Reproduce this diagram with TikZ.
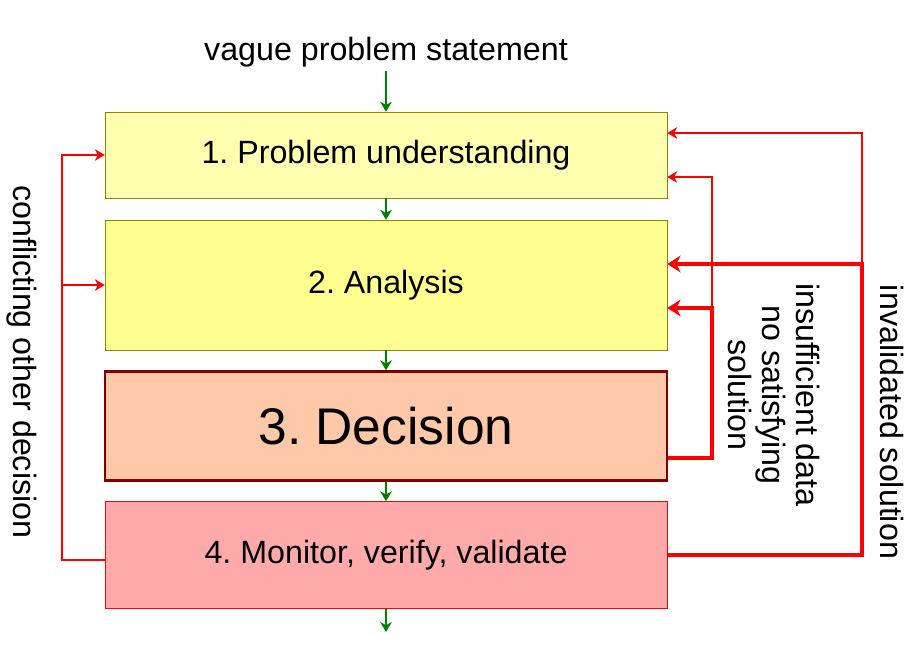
\documentclass[tikz,border=0pt]{standalone}
\usepackage{fontspec}
\setmainfont{Liberation Sans}
\usetikzlibrary{arrows.meta, positioning, calc}
\definecolor{decfill}{HTML}{FFC8A8}
\definecolor{monfill}{HTML}{FFAAAA}
\definecolor{undfill}{HTML}{FFFFB0}
\definecolor{anafill}{HTML}{FFFF90}
\frenchspacing

\begin{document}
\begin{tikzpicture}[x=0.03cm, y=-0.03cm,
    stage/.style={rectangle, draw=olive, minimum width=16.86cm, align=center, font=\fontsize{27.5}{32}\selectfont, inner sep=0pt},
    flow/.style={-{Stealth[length=3mm, width=3.5mm]}, line width=1.5pt, green!50!black},
    back/.style={-{Stealth[length=3mm, width=3.5mm]}, red, line width=1.2pt},
    backthick/.style={-{Stealth[length=4mm, width=5mm]}, red, line width=3pt},
    lbl/.style={font=\fontsize{27.5}{29}\selectfont, align=center, rotate=-90}
]
\useasboundingbox (0,0) rectangle (920,660);

% Stages
\node[stage, fill=undfill, minimum height=2.58cm] (understand) at (386,155) {1. Problem understanding};
\node[stage, fill=anafill, minimum height=3.9cm] (analysis) at (386,285) {2. Analysis};
\node[stage, fill=decfill, draw=red!50!black, line width=2pt, minimum height=3.27cm, font=\fontsize{44}{50}\selectfont] (decision) at (386,426) {3. Decision};
\node[stage, fill=monfill, draw=red, minimum height=3.21cm] (monitor) at (386,555) {4. Monitor, verify, validate};
\node[font=\fontsize{27.5}{32}\selectfont] (vague) at (386,52) {vague problem statement};

% Forward flow
\draw[flow] (vague.south) -- (understand.north);
\draw[flow] (understand.south) -- (analysis.north);
\draw[flow] (analysis.south) -- (decision.north);
\draw[flow] (decision.south) -- (monitor.north);
\coordinate (out) at (386,632);
\draw[flow] (monitor.south) -- (out);

% Feedback right
\coordinate (d1) at (712,458);
\coordinate (d2) at (712,308);
\coordinate (d3) at (712,177);
\coordinate (m1) at (862,555);
\coordinate (m2) at (862,264);
\coordinate (m3) at (862,133);
\draw[backthick] (decision.east |- d1) -- (d1) -- (d2) -- (analysis.east |- d2);
\draw[back] (d2) -- (d3) -- (understand.east |- d3);
\draw[backthick] (monitor.east |- m1) -- (m1) -- (m2) -- (analysis.east |- m2);
\draw[back] (m2) -- (m3) -- (understand.east |- m3);

% Feedback left
\coordinate (l1) at (62,560);
\coordinate (l2) at (62,285);
\coordinate (l3) at (62,155);
\draw[back, -] (monitor.west |- l1) -- (l1) -- (l2);
\draw[back] (l2) -- (l3) -- (understand.west |- l3);
\draw[back] (l2) -- (analysis.west |- l2);

% Labels
\node[lbl] (conflict) at (22,362) {conflicting other decision};
\node[lbl] (insuff) at (774,395) {insufficient data\\no satisfying\\solution};
\node[lbl] (invalid) at (892,422) {invalidated solution};
\end{tikzpicture}
\end{document}
